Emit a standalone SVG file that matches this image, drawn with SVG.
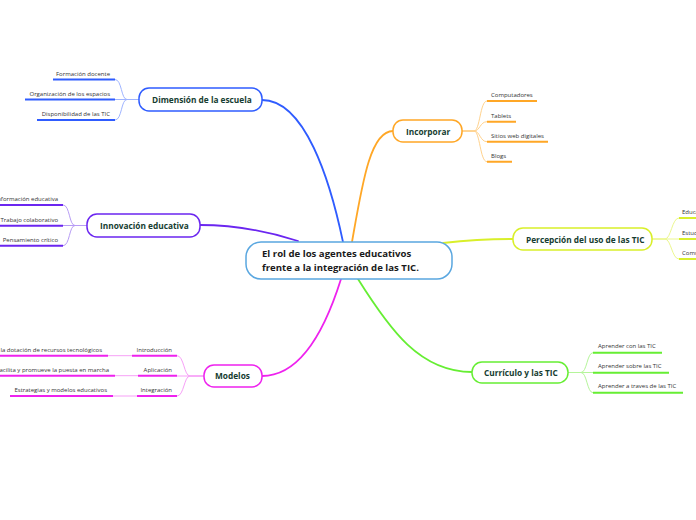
<svg xmlns="http://www.w3.org/2000/svg" width="696" height="520" viewBox="0 0 696 520">
<style>
.bg{fill:#ffffff}
.node{fill:#ffffff;stroke-width:1.5}
.lbl{font-family:"Open Sans","Noto Sans",sans-serif;font-weight:bold;font-size:8.3px;fill:#163d31}
.ctr{font-family:"Open Sans","Noto Sans",sans-serif;font-weight:bold;font-size:9.6px;fill:#1a1a1a}
.sub{font-family:"Open Sans","Noto Sans",sans-serif;font-size:6px;fill:#333333}
.end{text-anchor:end}
.main{fill:none;stroke-width:1.8;stroke-linecap:round}
.br{fill:none;stroke-width:1}
.ul{fill:none;stroke-width:2}
</style>
<rect class="bg" x="0" y="0" width="696" height="520"/>
<g id="connectors">
  <path class="main" stroke="#2f5cff" d="M262,100 C305,100 330,180 343,242"/>
  <path class="main" stroke="#ffa726" d="M352,242 C362,185 370,131 393,131"/>
  <path class="main" stroke="#d9ef2a" d="M443,243 C470,240 490,239 513,239"/>
  <path class="main" stroke="#6b26f0" d="M200,225 C240,225 270,232 298,241"/>
  <path class="main" stroke="#ee22ee" d="M262,376 C300,376 325,330 341,279"/>
  <path class="main" stroke="#66ee33" d="M358,279 C390,330 420,372 472,372"/>
  <g stroke="#9fb4ff" class="br">
    <path d="M139,99.5 H127 C121,99.5 122,79.5 115,79.5"/>
    <path d="M139,99.5 H115"/>
    <path d="M139,99.5 H127 C121,99.5 122,120 115,120"/>
  </g>
  <g stroke="#b79cf5" class="br">
    <path d="M87,225.5 H75 C69,225.5 70,205 63,205"/>
    <path d="M87,225.5 H63"/>
    <path d="M87,225.5 H75 C69,225.5 70,245.7 63,245.7"/>
  </g>
  <g stroke="#ffd28c" class="br">
    <path d="M462,131 H474 C480,131 480,101 487,101"/>
    <path d="M462,131 H474 C480,131 480,121.7 487,121.7"/>
    <path d="M462,131 H474 C480,131 480,141.7 487,141.7"/>
    <path d="M462,131 H474 C480,131 480,161.7 487,161.7"/>
  </g>
  <g stroke="#ecf78f" class="br">
    <path d="M652,239 H665 C671,239 672,218 679,218"/>
    <path d="M652,239 H679"/>
    <path d="M652,239 H665 C671,239 672,259 679,259"/>
  </g>
  <g stroke="#b5f59a" class="br">
    <path d="M568,372.5 H581 C587,372.5 587,352.7 593,352.7"/>
    <path d="M568,372.5 H593"/>
    <path d="M568,372.5 H581 C587,372.5 587,392.7 593,392.7"/>
  </g>
  <g stroke="#f7a0f7" class="br">
    <path d="M204,376 H190 C184,376 184,355.7 177,355.7"/>
    <path d="M204,376 H177"/>
    <path d="M204,376 H190 C184,376 184,396 177,396"/>
    <path d="M132,355.7 H108"/>
    <path d="M138,375.7 H115"/>
    <path d="M137,396 H113"/>
  </g>
</g>
<g id="central">
  <rect class="node" stroke="#5aa7e0" x="246" y="242" width="206" height="37" rx="15"/>
  <text class="ctr" x="262" y="257">El rol de los agentes educativos</text>
  <text class="ctr" x="262" y="271">frente a la integración de las TIC.</text>
</g>
<g id="dimension">
  <rect class="node" stroke="#2f5cff" x="139" y="88" width="123" height="23" rx="10"/>
  <text class="lbl" x="152" y="103">Dimensión de la escuela</text>
</g>
<g id="dimension-children">
  <path class="ul" stroke="#2f5cff" d="M53,79.5 H115 M25,99.5 H115 M37,120 H115"/>
  <text class="sub end" x="110" y="75.5">Formación docente</text>
  <text class="sub end" x="110" y="95.5">Organización de los espacios</text>
  <text class="sub end" x="110" y="116">Disponibilidad de las TIC</text>
</g>
<g id="incorporar">
  <rect class="node" stroke="#ffa726" x="393" y="120" width="69" height="22" rx="10"/>
  <text class="lbl" x="406" y="134.5">Incorporar</text>
</g>
<g id="incorporar-children">
  <path class="ul" stroke="#ffa726" d="M487,101 H537 M487,121.7 H516 M487,141.7 H548 M487,161.7 H512"/>
  <text class="sub" x="491" y="97">Computadores</text>
  <text class="sub" x="491" y="117.7">Tablets</text>
  <text class="sub" x="491" y="137.7">Sitios web digitales</text>
  <text class="sub" x="491" y="157.7">Blogs</text>
</g>
<g id="percepcion">
  <rect class="node" stroke="#d9ef2a" x="513" y="228" width="139" height="22" rx="10"/>
  <text class="lbl" x="526" y="242.5">Percepción del uso de las TIC</text>
</g>
<g id="percepcion-children">
  <path class="ul" stroke="#d9ef2a" d="M679,218 H700 M679,239 H700 M679,259 H700"/>
  <text class="sub" x="682" y="214">Educa</text>
  <text class="sub" x="682" y="235">Estud</text>
  <text class="sub" x="682" y="255">Comu</text>
</g>
<g id="innovacion">
  <rect class="node" stroke="#6b26f0" x="87" y="214" width="113" height="23" rx="10"/>
  <text class="lbl" x="100" y="228.5">Innovación educativa</text>
</g>
<g id="innovacion-children">
  <path class="ul" stroke="#6b26f0" d="M0,205 H63 M0,225.7 H63 M0,245.7 H63"/>
  <text class="sub end" x="58" y="201">Información educativa</text>
  <text class="sub end" x="58" y="221.7">Trabajo colaborativo</text>
  <text class="sub end" x="58" y="241.7">Pensamiento crítico</text>
</g>
<g id="modelos">
  <rect class="node" stroke="#ee22ee" x="204" y="365" width="58" height="22" rx="10"/>
  <text class="lbl" x="215" y="379">Modelos</text>
</g>
<g id="modelos-children">
  <path class="ul" stroke="#ee22ee" d="M132,355.7 H177 M138,375.7 H177 M137,396 H177 M0,355.7 H108 M0,375.7 H115 M10,396 H113"/>
  <text class="sub end" x="172" y="351.5">Introducción</text>
  <text class="sub end" x="172" y="371.5">Aplicación</text>
  <text class="sub end" x="172" y="391.5">Integración</text>
  <text class="sub end" x="102" y="351.5">la dotación de recursos tecnológicos</text>
  <text class="sub end" x="109" y="371.5">Facilita y promueve la puesta en marcha</text>
  <text class="sub end" x="107" y="391.5">Estrategias y modelos educativos</text>
</g>
<g id="curriculo">
  <rect class="node" stroke="#66ee33" x="472" y="362" width="96" height="21" rx="10"/>
  <text class="lbl" x="484" y="376">Currículo y las TIC</text>
</g>
<g id="curriculo-children">
  <path class="ul" stroke="#66ee33" d="M593,352.7 H662 M593,372.7 H669 M593,392.7 H683"/>
  <text class="sub" x="598" y="348">Aprender con las TIC</text>
  <text class="sub" x="598" y="368">Aprender sobre las TIC</text>
  <text class="sub" x="598" y="388">Aprender a traves de las TIC</text>
</g>
</svg>
